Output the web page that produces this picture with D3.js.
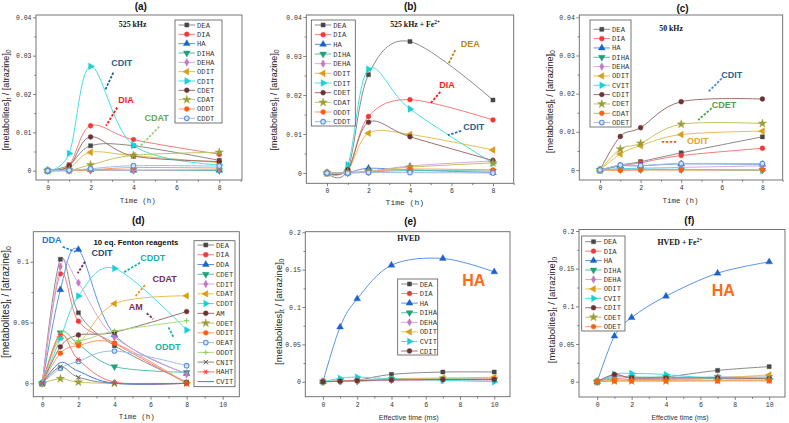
<!DOCTYPE html>
<html><head><meta charset="utf-8">
<script src="https://cdn.jsdelivr.net/npm/d3@7"></script>
<style>body{margin:0;background:#fff}svg{display:block}</style>
</head><body>
<svg id="c" width="789" height="423"></svg>
<script>
// ---------------- DATA ----------------
const timeH = [0, 1, 2, 4, 8];
const timeMs = [0, 1, 2, 4, 7, 10];

const namesA = ["DEA","DIA","HA","DIHA","DEHA","ODIT","CDIT","CDET","CDAT","ODDT","CDDT"];
const valuesA = [
  [0, 0.0015, 0.0065, 0.0065, 0.0027],
  [0, 0.0015, 0.0117, 0.0081, 0.0043],
  [0, 0.0002, 0.0003, 0.0001, 0.0001],
  [0, 0.0001, 0.0001, 0.0001, 0.0000],
  [0, 0.0001, 0.0002, 0.0001, 0.0003],
  [0, 0.0007, 0.0048, 0.0039, 0.0021],
  [0, 0.0045, 0.0272, 0.0066, 0.0015],
  [0, 0.0012, 0.0088, 0.0038, 0.0024],
  [0, 0.0001, 0.0015, 0.0040, 0.0048],
  [0, 0.0000, 0.0002, 0.0008, 0.0007],
  [0, 0.0001, 0.0005, 0.0013, 0.0012]
];

const namesB = ["DEA","DIA","HA","DIHA","DEHA","ODIT","CDIT","CDET","CDAT","ODDT","CDDT"];
const valuesB = [
  [0, 0.0009, 0.0252, 0.0337, 0.0187],
  [0, 0.0009, 0.0145, 0.0188, 0.0136],
  [0, 0.0001, 0.0012, 0.0008, 0.0001],
  [0, 0.0000, 0.0003, 0.0006, 0.0005],
  [0, 0.0001, 0.0003, 0.0018, 0.0031],
  [0, 0.0008, 0.0102, 0.0099, 0.0059],
  [0, 0.0021, 0.0266, 0.0164, 0.0025],
  [0, 0.0008, 0.0130, 0.0093, 0.0032],
  [0, 0.0001, 0.0005, 0.0015, 0.0026],
  [0, 0.0001, 0.0003, 0.0010, 0.0008],
  [0, 0.0000, 0.0001, 0.0001, 0.0000]
];

const namesC = ["DEA","DIA","HA","DIHA","DEHA","ODIT","CVIT","CDIT","CDET","CDAT","ODET"];
const valuesC = [
  [0, 0.0013, 0.0022, 0.0045, 0.0087],
  [0, 0.0011, 0.0019, 0.0038, 0.0057],
  [0, 0.0011, 0.0011, 0.0016, 0.0015],
  [0, 0.0001, 0.0001, 0.0001, 0.0000],
  [0, 0.0002, 0.0005, 0.0007, 0.0011],
  [0, 0.0042, 0.0064, 0.0093, 0.0102],
  [0, 0.0004, 0.0003, 0.0002, -0.0001],
  [0, 0.0088, 0.0111, 0.0179, 0.0186],
  [0, 0.0055, 0.0070, 0.0120, 0.0122],
  [0, -0.0001, 0.0000, 0.0000, 0.0000],
  [0, 0.0013, 0.0012, 0.0017, 0.0017]
];

const namesD = ["DEA","DIA","DDA","CDET","CDIT","CDAT","CDDT","AM","ODET","ODIT","OEAT","ODDT","CNIT","HAHT","CVIT"];
const valuesD = [
  [0, 0.102, 0.058, 0.031, 0.001],
  [0, 0.090, 0.051, 0.033, 0.000],
  [0, 0.077, 0.110, 0.040, 0.008],
  [0, 0.0416, 0.032, 0.0137, 0.009],
  [0, 0.096, 0.0827, 0.038, 0.0074],
  [0, 0.038, 0.033, 0.0655, 0.072],
  [0, 0.037, 0.0718, 0.0945, 0.0438],
  [0, 0.030, 0.0397, 0.042, 0.059],
  [0, 0.0038, 0.001, 0.000, 0.000],
  [0, 0.0247, 0.031, 0.033, 0.000],
  [0, 0.0125, 0.018, 0.0266, 0.0145],
  [0, 0.041, 0.035, 0.043, 0.0515],
  [0, 0.0135, 0.005, 0.000, 0.000],
  [0, 0.040, 0.0195, 0.001, 0.000],
  [0, 0.017, 0.010, 0.000, 0.000]
];

const namesE = ["DEA","DIA","HA","DIHA","DEHA","ODIT","CVIT","CDIT"];
const valuesE = [
  [0, 0.001, 0.002, 0.0098, 0.013, 0.013],
  [0, 0.0005, 0.001, 0.002, 0.003, 0.004],
  [0, 0.0732, 0.111, 0.156, 0.165, 0.147],
  [0, 0.001, 0.001, 0.003, 0.004, 0.003],
  [0, 0.0005, 0.001, 0.002, 0.002, 0.002],
  [0, 0.001, 0.002, 0.004, 0.005, 0.006],
  [0, 0.0045, 0.0062, 0.004, 0.002, 0.000],
  [0, 0.0008, 0.0015, 0.0025, 0.003, 0.003]
];

const namesF = ["DEA","DIA","HA","DIHA","DEHA","ODIT","CVIT","CDIT","CDET","ODET"];
const valuesF = [
  [0, 0.008, 0.006, 0.0065, 0.015, 0.020],
  [0, 0.004, 0.003, 0.003, 0.004, 0.004],
  [0, 0.0605, 0.0852, 0.1135, 0.144, 0.159],
  [0, 0.006, 0.006, 0.006, 0.006, 0.006],
  [0, 0.008, 0.005, 0.004, 0.006, 0.006],
  [0, 0.002, 0.002, 0.002, 0.005, 0.009],
  [0, 0.010, 0.011, 0.0095, 0.004, 0.004],
  [0, 0.0095, 0.005, 0.005, 0.005, 0.004],
  [0, 0.001, 0.001, 0.001, 0.0015, 0.002],
  [0, 0.001, 0.001, 0.001, 0.001, 0.001]
];

const ticksH = [0, 2, 4, 6, 8];
const minorH = [1, 3, 5, 7, 9];
const ticksMs = [0, 2, 4, 6, 8, 10];
const minorMs = [1, 3, 5, 7, 9];
const ticksY04 = [0, 0.01, 0.02, 0.03, 0.04];
const minorY04 = [0.005, 0.015, 0.025, 0.035];
const ticksYD = [0, 0.05, 0.1];
const minorYD = [0.025, 0.075];
const ticksY2 = [0, 0.05, 0.1, 0.15, 0.2];
const minorY2 = [0.025, 0.075, 0.125, 0.175];

// ---------------- STYLES ----------------
const STYLES = [
  {c:'#474747', l:'#8a8a8a', m:'square'},
  {c:'#f03a3a', l:'#f77b7b', m:'circle'},
  {c:'#1c62c9', l:'#5a95e2', m:'triUp'},
  {c:'#21a07a', l:'#55c2a2', m:'triDown'},
  {c:'#c27ac2', l:'#dba8db', m:'diamond'},
  {c:'#d99e18', l:'#e8bd55', m:'triLeft'},
  {c:'#18d0d6', l:'#45dfe3', m:'triRight'},
  {c:'#6b3434', l:'#9c6f6f', m:'circle'},
  {c:'#9c9c38', l:'#c2c266', m:'star'},
  {c:'#ff5e10', l:'#ff9a60', m:'circle'},
  {c:'#5f93db', l:'#9dbde9', m:'circleOpen'},
  {c:'#8ccc55', l:'#a9dc80', m:'plus'},
  {c:'#555555', l:'#888888', m:'x'},
  {c:'#ff3a3a', l:'#ff7070', m:'asterisk'},
  {c:'#3b7fdc', l:'#3b7fdc', m:'none'}
];

const MONO = '"Liberation Mono", "DejaVu Sans Mono", monospace';
const SANS = '"Liberation Sans", Arial, sans-serif';
const SERIF = '"Liberation Serif", "DejaVu Serif", serif';

const fmt = v => v === 0 ? '0' : String(+v.toFixed(3));

const PANELS = [
  {key:'a', title:'(a)', tpos:[140.8, 6], frame:{l:36,t:15,r:242,b:180},
   xd:[-0.545, 9.06], yd:[-0.00243, 0.0406], xt:ticksH, xm:minorH, yt:ticksY04, ym:minorY04,
   xs:timeH, names:namesA, vals:valuesA, sty:[0,1,2,3,4,5,6,7,8,9,10],
   ylab:{x:6, y:100, fs:9}, xlab:{t:'Time (h)', x:137.8, y:200.7, mono:true, fs:7.5},
   legend:{x:175, y:20, w:47, h:103, r0:25, rh:9.33},
   sub:{parts:[['525 kHz']], x:3.96, y:0.0383},
   notes:[{t:'CDIT', x:3.45, y:0.0282, c:'#2e5f8a'}, {t:'DIA', x:3.65, y:0.0184, c:'#ff1a1a'}, {t:'CDAT', x:5.08, y:0.0139, c:'#6aa84f'}],
   arrows:[{a:[3.06,0.0256], b:[2.67,0.0209], c:'#2e5f8a'}, {a:[3.24,0.0165], b:[2.72,0.0117], c:'#ff1a1a'}, {a:[5.2,0.0115], b:[4.3,0.0063], c:'#9ad07a'}]},
  {key:'b', title:'(b)', tpos:[410.3, 6], frame:{l:306.3,t:15,r:513.7,b:183.3},
   xd:[-0.998, 9.0], yd:[-0.00264, 0.0405], xt:ticksH, xm:minorH, yt:ticksY04, ym:minorY04,
   xs:timeH, names:namesB, vals:valuesB, sty:[0,1,2,3,4,5,6,7,8,9,10],
   ylab:{x:273.5, y:100, fs:9}, xlab:{t:'Time (h)', x:404.8, y:202.5, mono:true, fs:8},
   legend:{x:311.3, y:20, w:44, h:106, r0:25, rh:9.67},
   sub:{parts:[['525 kHz + Fe'],['2+','sup']], x:4.25, y:0.0381},
   notes:[{t:'DEA', x:6.91, y:0.0332, c:'#b8860b'}, {t:'DIA', x:5.78, y:0.0225, c:'#ff1a1a'}, {t:'CDIT', x:7.07, y:0.0118, c:'#2e5f8a'}],
   arrows:[{a:[6.18,0.0315], b:[5.87,0.0281], c:'#b8860b'}, {a:[5.46,0.0208], b:[4.98,0.0178], c:'#ff1a1a'}, {a:[6.47,0.0108], b:[5.83,0.0097], c:'#2e6fb0'}]},
  {key:'c', title:'(c)', tpos:[682.5, 8.3], frame:{l:579.3,t:15,r:782.7,b:180},
   xd:[-1.02, 9.0], yd:[-0.0026, 0.0406], xt:ticksH, xm:minorH, yt:ticksY04, ym:minorY04,
   xs:timeH, names:namesC, vals:valuesC, sty:[0,1,2,3,4,5,6,7,8,9,10],
   ylab:{x:549.5, y:101.7, fs:9.2}, xlab:{t:'Time (h)', x:680.5, y:200.3, mono:true, fs:7.5},
   legend:{x:590, y:20, w:41, h:107, r0:29.3, rh:9.33},
   sub:{parts:[['50 kHz']], x:3.5, y:0.037},
   notes:[{t:'CDIT', x:6.49, y:0.0249, c:'#2e5f8a'}, {t:'CDET', x:6.11, y:0.0172, c:'#4ea24e'}, {t:'ODIT', x:4.82, y:0.0077, c:'#e6a420'}],
   arrows:[{a:[6.0,0.024], b:[5.34,0.0205], c:'#4a90d9'}, {a:[5.5,0.0162], b:[4.84,0.0131], c:'#4ea24e'}, {a:[3.04,0.0074], b:[3.83,0.0074], c:'#ff5a20'}]},
  {key:'d', title:'(d)', tpos:[138.3, 220], frame:{l:33.3,t:231.7,r:239.3,b:396.7},
   xd:[-0.5, 10.92], yd:[-0.011, 0.1247], xt:ticksMs, xm:minorMs, yt:ticksYD, ym:minorYD,
   xs:timeH, names:namesD, vals:valuesD, sty:[0,1,2,3,4,5,6,7,8,9,10,11,12,13,14],
   ylab:{x:5.3, y:302, fs:10}, xlab:{t:'Time (h)', x:136.7, y:416, mono:true, fs:7.5},
   legend:{x:194, y:240.7, w:41, h:146, r0:245, rh:9.76},
   sub:{parts:[['10 eq. Fenton reagents']], x:5.19, y:0.1164, sans:true},
   notes:[{t:'DDA', x:0.52, y:0.1178, c:'#1f78d1'}, {t:'CDIT', x:3.31, y:0.1069, c:'#1f4e79'}, {t:'CDDT', x:6.12, y:0.1036, c:'#17b5a8'},
          {t:'CDAT', x:6.78, y:0.0863, c:'#7b2d52'}, {t:'AM', x:5.18, y:0.0625, c:'#7b2d52'}, {t:'ODDT', x:6.95, y:0.0301, c:'#17b5a8'}],
   arrows:[{a:[1.13,0.1123], b:[1.81,0.1082], c:'#1f78d1'}, {a:[2.37,0.1], b:[1.96,0.0905], c:'#7b2d5a'}, {a:[5.42,0.0992], b:[4.49,0.091], c:'#17b5a8'},
           {a:[5.69,0.0808], b:[5.14,0.0712], c:'#e89a20'}, {a:[5.79,0.0576], b:[6.15,0.0529], c:'#7b2d5a'}, {a:[7.26,0.0383], b:[6.98,0.0465], c:'#17b5a8'}]},
  {key:'e', title:'(e)', tpos:[410.3, 221.7], frame:{l:305.3,t:231.7,r:510,b:396.7},
   xd:[-1.03, 10.92], yd:[-0.02, 0.2008], xt:ticksMs, xm:minorMs, yt:ticksY2, ym:minorY2,
   xs:timeMs, names:namesE, vals:valuesE, sty:[0,1,2,3,4,5,6,7],
   ylab:{x:278.3, y:311.7, fs:9.5}, xlab:{t:'Effective time (ms)', x:408.7, y:416.7, mono:false, fs:8, len:60},
   legend:{x:397.7, y:279, w:40, h:76, r0:284, rh:9.57},
   sub:{parts:[['HVED']], x:5.0, y:0.192},
   notes:[{t:'HA', x:8.8, y:0.136, c:'#ff6a13', fs:16}],
   arrows:[]},
  {key:'f', title:'(f)', tpos:[689.3, 220.7], frame:{l:579,t:229.5,r:785,b:397},
   xd:[-1.06, 10.92], yd:[-0.0203, 0.2020], xt:ticksMs, xm:minorMs, yt:ticksY2, ym:minorY2,
   xs:timeMs, names:namesF, vals:valuesF, sty:[0,1,2,3,4,5,6,7,8,9],
   ylab:{x:552, y:310, fs:9.5}, xlab:{t:'Effective time (ms)', x:680, y:417, mono:false, fs:8, len:57},
   legend:{x:581.7, y:236, w:43.3, h:95, r0:241.7, rh:9.44},
   sub:{parts:[['HVED + Fe'],['2+','sup']], x:4.81, y:0.1846},
   notes:[{t:'HA', x:7.33, y:0.1215, c:'#ff6a13', fs:16}],
   arrows:[]}
];

// ---------------- DRAW ----------------
const svg = d3.select('#c');

function drawMarker(g, type, cx, cy, st) {
  const col = st.c;
  if (type === 'none') return;
  const mg = g.append('g').attr('transform', `translate(${cx},${cy})`);
  const sym = (t, size, rot) => mg.append('path')
      .attr('d', d3.symbol().type(t).size(size)())
      .attr('transform', rot ? `rotate(${rot})` : null)
      .attr('fill', col).attr('stroke', col).attr('stroke-width', 0.4);
  switch (type) {
    case 'square': sym(d3.symbolSquare, 17); break;
    case 'circle': sym(d3.symbolCircle, 19); break;
    case 'circleOpen':
      mg.append('circle').attr('r', 2.3).attr('fill', '#d6e4f7').attr('stroke', col).attr('stroke-width', 1.1); break;
    case 'triUp': sym(d3.symbolTriangle, 20); break;
    case 'triDown': sym(d3.symbolTriangle, 20, 180); break;
    case 'triLeft': sym(d3.symbolTriangle, 20, -90); break;
    case 'triRight': sym(d3.symbolTriangle, 20, 90); break;
    case 'diamond': sym(d3.symbolDiamond, 17); break;
    case 'star': sym(d3.symbolStar, 22); break;
    case 'plus':
      mg.append('path').attr('d', 'M-2.6,0H2.6M0,-2.6V2.6').attr('stroke', col).attr('stroke-width', 1); break;
    case 'x':
      mg.append('path').attr('d', 'M-2.2,-2.2L2.2,2.2M-2.2,2.2L2.2,-2.2').attr('stroke', col).attr('stroke-width', 1); break;
    case 'asterisk':
      mg.append('path').attr('d', 'M-2.6,0H2.6M-1.3,-2.25L1.3,2.25M-1.3,2.25L1.3,-2.25').attr('stroke', col).attr('stroke-width', 1); break;
  }
}

PANELS.forEach(P => {
  const f = P.frame;
  const x = d3.scaleLinear().domain(P.xd).range([f.l, f.r]);
  const y = d3.scaleLinear().domain(P.yd).range([f.b, f.t]);
  const g = svg.append('g').attr('class', 'panel-' + P.key);

  g.append('clipPath').attr('id', 'clip-' + P.key)
    .append('rect').attr('x', f.l).attr('y', f.t).attr('width', f.r - f.l).attr('height', f.b - f.t);

  const styleAxis = (ax, fs) => {
    ax.select('.domain').remove();
    ax.selectAll('line').attr('stroke', '#666').attr('stroke-width', 0.8);
    ax.selectAll('text').attr('font-family', MONO).attr('font-size', fs).attr('fill', '#333');
  };
  const xa = g.append('g').attr('transform', `translate(0,${f.b})`)
    .call(d3.axisBottom(x).tickValues(P.xt).tickSize(3).tickSizeOuter(0).tickPadding(2.5).tickFormat(fmt));
  styleAxis(xa, 6.5);
  const xam = g.append('g').attr('transform', `translate(0,${f.b})`)
    .call(d3.axisBottom(x).tickValues(P.xm).tickSize(1.8).tickSizeOuter(0).tickFormat(''));
  styleAxis(xam, 6.5);
  const ya = g.append('g').attr('transform', `translate(${f.l},0)`)
    .call(d3.axisLeft(y).tickValues(P.yt).tickSize(3).tickSizeOuter(0).tickPadding(1.5).tickFormat(fmt));
  styleAxis(ya, 6.5);
  const yam = g.append('g').attr('transform', `translate(${f.l},0)`)
    .call(d3.axisLeft(y).tickValues(P.ym).tickSize(1.8).tickSizeOuter(0).tickFormat(''));
  styleAxis(yam, 6.5);

  g.append('rect').attr('x', f.l).attr('y', f.t).attr('width', f.r - f.l).attr('height', f.b - f.t)
    .attr('fill', 'none').attr('stroke', '#666').attr('stroke-width', 0.9);

  const line = d3.line().x(d => x(d[0])).y(d => y(d[1])).curve(d3.curveCatmullRom.alpha(0));
  const sg = g.append('g').attr('clip-path', `url(#clip-${P.key})`);
  P.vals.forEach((vals, i) => {
    const st = STYLES[P.sty[i]];
    const pts = P.xs.map((xx, j) => [xx, vals[j]]);
    sg.append('path').attr('d', line(pts)).attr('fill', 'none').attr('stroke', st.l).attr('stroke-width', 1);
    pts.forEach(p => drawMarker(sg, st.m, x(p[0]), y(p[1]), st));
  });

  const L = P.legend;
  const lg = g.append('g');
  lg.append('rect').attr('x', L.x).attr('y', L.y).attr('width', L.w).attr('height', L.h)
    .attr('fill', '#fff').attr('stroke', '#555').attr('stroke-width', 0.8);
  P.names.forEach((n, i) => {
    const st = STYLES[P.sty[i]];
    const yy = L.r0 + i * L.rh;
    lg.append('line').attr('x1', L.x + 3.5).attr('x2', L.x + 20).attr('y1', yy).attr('y2', yy)
      .attr('stroke', st.l).attr('stroke-width', 1);
    drawMarker(lg, st.m, L.x + 11.8, yy, st);
    lg.append('text').attr('x', L.x + 22).attr('y', yy).attr('dy', '0.35em')
      .attr('font-family', MONO).attr('font-size', 7.2).attr('fill', '#333').text(n);
  });

  g.append('text').attr('x', P.tpos[0]).attr('y', P.tpos[1]).attr('dy', '0.35em').attr('text-anchor', 'middle')
    .attr('font-family', SANS).attr('font-weight', 'bold').attr('font-size', 10).attr('fill', '#111').text(P.title);

  const yl = g.append('text').attr('transform', `translate(${P.ylab.x},${P.ylab.y}) rotate(-90)`)
    .attr('text-anchor', 'middle').attr('dy', '0.35em')
    .attr('font-family', SANS).attr('font-size', P.ylab.fs).attr('fill', '#222');
  yl.append('tspan').text('[metabolites]');
  yl.append('tspan').attr('dy', 2).attr('font-size', P.ylab.fs * 0.7).text('t');
  yl.append('tspan').attr('dy', -2).text(' / [atrazine]');
  yl.append('tspan').attr('dy', 2).attr('font-size', P.ylab.fs * 0.7).text('0');

  const xl = g.append('text').attr('x', P.xlab.x).attr('y', P.xlab.y).attr('dy', '0.35em').attr('text-anchor', 'middle')
    .attr('font-family', P.xlab.mono ? MONO : SANS).attr('font-size', P.xlab.fs).attr('fill', '#333').text(P.xlab.t);
  if (P.xlab.len) xl.attr('textLength', P.xlab.len).attr('lengthAdjust', 'spacingAndGlyphs');

  const sb = g.append('text').attr('x', x(P.sub.x)).attr('y', y(P.sub.y)).attr('dy', '0.35em').attr('text-anchor', 'middle')
    .attr('font-family', P.sub.sans ? SANS : SERIF).attr('font-weight', 'bold')
    .attr('font-size', 7.8).attr('fill', '#111');
  P.sub.parts.forEach(pp => {
    const ts = sb.append('tspan').text(pp[0]);
    if (pp[1] === 'sup') ts.attr('dy', -3).attr('font-size', 5.5);
  });

  P.arrows.forEach(a => {
    g.append('line').attr('x1', x(a.a[0])).attr('y1', y(a.a[1])).attr('x2', x(a.b[0])).attr('y2', y(a.b[1]))
      .attr('stroke', a.c).attr('stroke-width', 1.8).attr('stroke-dasharray', '2.5,1.5');
  });
  P.notes.forEach(n => {
    g.append('text').attr('x', x(n.x)).attr('y', y(n.y)).attr('dy', '0.35em').attr('text-anchor', 'middle')
      .attr('font-family', SANS).attr('font-weight', 'bold').attr('font-size', n.fs || 9)
      .attr('fill', n.c).text(n.t);
  });
});
</script>
</body></html>
